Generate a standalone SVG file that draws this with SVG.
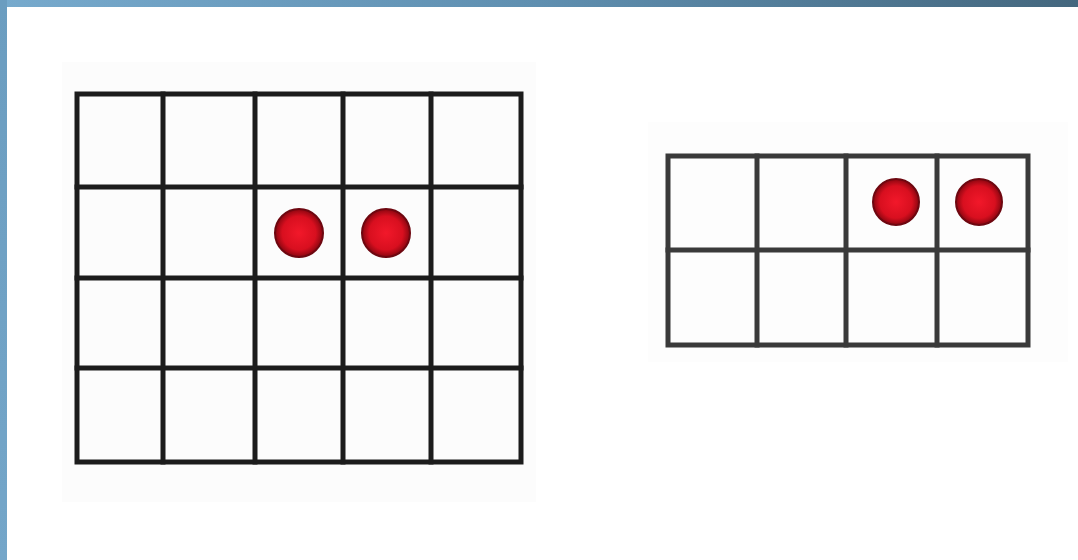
<svg xmlns="http://www.w3.org/2000/svg" width="1078" height="560" viewBox="0 0 1078 560">
  <defs>
    <linearGradient id="topbar" x1="0" y1="0" x2="1" y2="0">
      <stop offset="0" stop-color="#77aacd"/>
      <stop offset="0.5" stop-color="#5f8fb0"/>
      <stop offset="1" stop-color="#44677e"/>
    </linearGradient>
    <linearGradient id="leftbar" x1="0" y1="0" x2="0" y2="1">
      <stop offset="0" stop-color="#6b9dc0"/>
      <stop offset="1" stop-color="#74a6c9"/>
    </linearGradient>
    <radialGradient id="dotfill" cx="0.5" cy="0.5" r="0.5">
      <stop offset="0" stop-color="#f2182a"/>
      <stop offset="0.7" stop-color="#d80f1f"/>
      <stop offset="1" stop-color="#8a0610"/>
    </radialGradient>
  </defs>
  <style>
    .grid { fill: none; stroke: #1c1c1c; stroke-width: 5; stroke-linecap: square; }
    .grid2 { fill: none; stroke: #3a3a3a; stroke-width: 5; stroke-linecap: square; }
    .dot { fill: url(#dotfill); stroke: #6e0710; stroke-width: 2; }
  </style>
  <rect x="0" y="0" width="1078" height="560" fill="#ffffff"/>
  <rect x="62" y="62" width="474" height="440" fill="#fcfcfc"/>
  <rect x="648" y="122" width="420" height="240" fill="#fdfdfd"/>
  <rect x="0" y="0" width="1078" height="7" fill="url(#topbar)"/>
  <rect x="0" y="0" width="7" height="560" fill="url(#leftbar)"/>

  <g id="left-grid">
    <rect class="grid" x="77" y="94" width="444" height="368"/>
    <line class="grid" x1="163" y1="94" x2="163" y2="462"/>
    <line class="grid" x1="255" y1="94" x2="255" y2="462"/>
    <line class="grid" x1="343" y1="94" x2="343" y2="462"/>
    <line class="grid" x1="431" y1="94" x2="431" y2="462"/>
    <line class="grid" x1="77" y1="187" x2="521" y2="187"/>
    <line class="grid" x1="77" y1="278" x2="521" y2="278"/>
    <line class="grid" x1="77" y1="368" x2="521" y2="368"/>
  </g>
  <g id="left-dots">
    <circle class="dot" cx="299" cy="233" r="24"/>
    <circle class="dot" cx="386" cy="233" r="24"/>
  </g>

  <g id="right-grid">
    <rect class="grid2" x="668" y="156" width="360" height="189"/>
    <line class="grid2" x1="757" y1="156" x2="757" y2="345"/>
    <line class="grid2" x1="846" y1="156" x2="846" y2="345"/>
    <line class="grid2" x1="937" y1="156" x2="937" y2="345"/>
    <line class="grid2" x1="668" y1="250" x2="1028" y2="250"/>
  </g>
  <g id="right-dots">
    <circle class="dot" cx="896" cy="202" r="23"/>
    <circle class="dot" cx="979" cy="202" r="23"/>
  </g>
</svg>
